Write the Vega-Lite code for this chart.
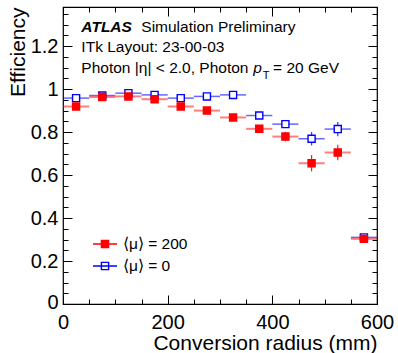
{
  "$schema": "https://vega.github.io/schema/vega-lite/v6.json",
  "width": 314,
  "height": 297,
  "autosize": {"type": "none"},
  "padding": {"left": 63, "top": 7, "right": 21, "bottom": 49},
  "background": "#ffffff",
  "config": {
    "view": {"stroke": "#000000", "strokeWidth": 1.2},
    "font": "Liberation Sans",
    "axis": {
      "labelFont": "Liberation Sans",
      "titleFont": "Liberation Sans",
      "labelColor": "#000000",
      "titleColor": "#000000",
      "tickColor": "#000000",
      "tickWidth": 1,
      "domain": false,
      "grid": false,
      "labelFontSize": 20,
      "titleFontSize": 21,
      "titleFontWeight": "normal",
      "labelFlush": false,
      "labelOverlap": false
    }
  },
  "datasets": {
    "eff": [
      {"s": "⟨μ⟩ = 0", "r": 25, "r0": 0, "r1": 50, "e": 0.958, "e0": 0.950, "e1": 0.966},
      {"s": "⟨μ⟩ = 0", "r": 75, "r0": 50, "r1": 100, "e": 0.970, "e0": 0.964, "e1": 0.976},
      {"s": "⟨μ⟩ = 0", "r": 125, "r0": 100, "r1": 150, "e": 0.981, "e0": 0.975, "e1": 0.987},
      {"s": "⟨μ⟩ = 0", "r": 175, "r0": 150, "r1": 200, "e": 0.973, "e0": 0.967, "e1": 0.979},
      {"s": "⟨μ⟩ = 0", "r": 225, "r0": 200, "r1": 250, "e": 0.958, "e0": 0.950, "e1": 0.966},
      {"s": "⟨μ⟩ = 0", "r": 275, "r0": 250, "r1": 300, "e": 0.966, "e0": 0.957, "e1": 0.975},
      {"s": "⟨μ⟩ = 0", "r": 325, "r0": 300, "r1": 350, "e": 0.973, "e0": 0.963, "e1": 0.983},
      {"s": "⟨μ⟩ = 0", "r": 375, "r0": 350, "r1": 400, "e": 0.877, "e0": 0.862, "e1": 0.892},
      {"s": "⟨μ⟩ = 0", "r": 425, "r0": 400, "r1": 450, "e": 0.837, "e0": 0.819, "e1": 0.855},
      {"s": "⟨μ⟩ = 0", "r": 475, "r0": 450, "r1": 500, "e": 0.769, "e0": 0.738, "e1": 0.800},
      {"s": "⟨μ⟩ = 0", "r": 525, "r0": 500, "r1": 550, "e": 0.814, "e0": 0.781, "e1": 0.847},
      {"s": "⟨μ⟩ = 0", "r": 575, "r0": 550, "r1": 600, "e": 0.310, "e0": 0.295, "e1": 0.325},
      {"s": "⟨μ⟩ = 200", "r": 25, "r0": 0, "r1": 50, "e": 0.919, "e0": 0.909, "e1": 0.929},
      {"s": "⟨μ⟩ = 200", "r": 75, "r0": 50, "r1": 100, "e": 0.963, "e0": 0.955, "e1": 0.971},
      {"s": "⟨μ⟩ = 200", "r": 125, "r0": 100, "r1": 150, "e": 0.966, "e0": 0.958, "e1": 0.974},
      {"s": "⟨μ⟩ = 200", "r": 175, "r0": 150, "r1": 200, "e": 0.953, "e0": 0.945, "e1": 0.961},
      {"s": "⟨μ⟩ = 200", "r": 225, "r0": 200, "r1": 250, "e": 0.919, "e0": 0.909, "e1": 0.929},
      {"s": "⟨μ⟩ = 200", "r": 275, "r0": 250, "r1": 300, "e": 0.900, "e0": 0.888, "e1": 0.912},
      {"s": "⟨μ⟩ = 200", "r": 325, "r0": 300, "r1": 350, "e": 0.868, "e0": 0.854, "e1": 0.882},
      {"s": "⟨μ⟩ = 200", "r": 375, "r0": 350, "r1": 400, "e": 0.815, "e0": 0.797, "e1": 0.833},
      {"s": "⟨μ⟩ = 200", "r": 425, "r0": 400, "r1": 450, "e": 0.779, "e0": 0.757, "e1": 0.801},
      {"s": "⟨μ⟩ = 200", "r": 475, "r0": 450, "r1": 500, "e": 0.655, "e0": 0.617, "e1": 0.693},
      {"s": "⟨μ⟩ = 200", "r": 525, "r0": 500, "r1": 550, "e": 0.705, "e0": 0.669, "e1": 0.741},
      {"s": "⟨μ⟩ = 200", "r": 575, "r0": 550, "r1": 600, "e": 0.303, "e0": 0.288, "e1": 0.318}
    ]
  },
  "layer": [
    {
      "data": {"name": "eff"},
      "transform": [{"filter": "datum.s === '⟨μ⟩ = 0'"}],
      "mark": {"type": "rule", "color": "#0000ff", "opacity": 0.6, "strokeWidth": 1.5},
      "encoding": {
        "x": {
          "field": "r0", "type": "quantitative",
          "scale": {"domain": [0, 600], "nice": false, "zero": false},
          "axis": {
            "orient": "bottom",
            "values": [0, 50, 100, 150, 200, 250, 300, 350, 400, 450, 500, 550, 600],
            "labelExpr": "datum.value % 200 === 0 ? datum.label : ''",
            "tickSize": {"condition": {"test": "datum.value % 200 === 0", "value": -9}, "value": -5},
            "labelPadding": 17,
            "title": "Conversion radius (mm)",
            "titleAnchor": "end",
            "titlePadding": -4
          }
        },
        "x2": {"field": "r1"},
        "y": {
          "field": "e", "type": "quantitative",
          "scale": {"domain": [0, 1.382], "nice": false, "zero": false},
          "axis": {
            "orient": "left",
            "values": [0, 0.05, 0.1, 0.15, 0.2, 0.25, 0.3, 0.35, 0.4, 0.45, 0.5, 0.55, 0.6, 0.65, 0.7, 0.75, 0.8, 0.85, 0.9, 0.95, 1, 1.05, 1.1, 1.15, 1.2, 1.25, 1.3, 1.35],
            "labelExpr": "abs(datum.value*5 - round(datum.value*5)) < 0.001 ? '' + round(datum.value*10)/10 : ''",
            "tickSize": {"condition": {"test": "abs(datum.value*5 - round(datum.value*5)) < 0.001", "value": -9}, "value": -5},
            "labelOffset": {"condition": {"test": "datum.value === 0", "value": -2}, "value": 0},
            "labelPadding": 14,
            "title": "Efficiency",
            "titleAnchor": "end",
            "titlePadding": 2
          }
        }
      }
    },
    {
      "data": {"name": "eff"},
      "transform": [{"filter": "datum.s === '⟨μ⟩ = 0'"}],
      "mark": {"type": "rule", "color": "#0000ff", "opacity": 0.8, "strokeWidth": 1.2},
      "encoding": {
        "x": {
          "field": "r", "type": "quantitative",
          "axis": {
            "orient": "top",
            "values": [0, 50, 100, 150, 200, 250, 300, 350, 400, 450, 500, 550, 600],
            "labels": false,
            "tickSize": {"condition": {"test": "datum.value % 200 === 0", "value": -9}, "value": -5},
            "title": null
          }
        },
        "y": {
          "field": "e0", "type": "quantitative",
          "axis": {
            "orient": "right",
            "values": [0, 0.05, 0.1, 0.15, 0.2, 0.25, 0.3, 0.35, 0.4, 0.45, 0.5, 0.55, 0.6, 0.65, 0.7, 0.75, 0.8, 0.85, 0.9, 0.95, 1, 1.05, 1.1, 1.15, 1.2, 1.25, 1.3, 1.35],
            "labels": false,
            "tickSize": {"condition": {"test": "abs(datum.value*5 - round(datum.value*5)) < 0.001", "value": -9}, "value": -5},
            "title": null
          }
        },
        "y2": {"field": "e1"}
      }
    },
    {
      "data": {"name": "eff"},
      "transform": [{"filter": "datum.s === '⟨μ⟩ = 200'"}],
      "mark": {"type": "rule", "color": "#ff0000", "opacity": 0.5, "strokeWidth": 2},
      "encoding": {
        "x": {"field": "r0", "type": "quantitative", "axis": null},
        "x2": {"field": "r1"},
        "y": {"field": "e", "type": "quantitative", "axis": null}
      }
    },
    {
      "data": {"name": "eff"},
      "transform": [{"filter": "datum.s === '⟨μ⟩ = 200'"}],
      "mark": {"type": "rule", "color": "#ff0000", "opacity": 0.9, "strokeWidth": 1.2},
      "encoding": {
        "x": {"field": "r", "type": "quantitative", "axis": null},
        "y": {"field": "e0", "type": "quantitative", "axis": null},
        "y2": {"field": "e1"}
      }
    },
    {
      "data": {"name": "eff"},
      "mark": {"type": "point", "shape": "square", "size": 50, "strokeWidth": 1.4, "opacity": 1, "filled": false},
      "encoding": {
        "x": {"field": "r", "type": "quantitative", "axis": null},
        "y": {"field": "e", "type": "quantitative", "axis": null},
        "fill": {
          "field": "s", "type": "nominal",
          "scale": {"domain": ["⟨μ⟩ = 200", "⟨μ⟩ = 0"], "range": ["#ff0000", "#ffffff"]},
          "legend": {
            "title": null, "orient": "bottom-left", "offset": 29, "padding": 0,
            "symbolType": "M-1,0H1M-0.3,-0.3H0.3V0.3H-0.3Z", "symbolSize": 576, "symbolStrokeWidth": 1.4,
            "labelFontSize": 15.5, "labelFont": "Liberation Sans", "labelColor": "#000000", "labelOffset": 5, "rowPadding": -6
          }
        },
        "stroke": {
          "field": "s", "type": "nominal",
          "scale": {"domain": ["⟨μ⟩ = 200", "⟨μ⟩ = 0"], "range": ["#ff0000", "#0000ff"]},
          "legend": {
            "title": null, "orient": "bottom-left", "offset": 29, "padding": 0,
            "symbolType": "M-1,0H1M-0.3,-0.3H0.3V0.3H-0.3Z", "symbolSize": 576, "symbolStrokeWidth": 1.4,
            "labelFontSize": 15.5, "labelFont": "Liberation Sans", "labelColor": "#000000", "labelOffset": 5, "rowPadding": -6
          }
        }
      }
    },
    {
      "data": {"values": [{"t": "ATLAS", "x": 35.1, "y": 1.2643}]},
      "mark": {"type": "text", "align": "left", "baseline": "alphabetic", "fontSize": 15.5, "fontStyle": "italic", "fontWeight": "bold", "color": "#000000"},
      "encoding": {
        "x": {"field": "x", "type": "quantitative", "axis": null},
        "y": {"field": "y", "type": "quantitative", "axis": null},
        "text": {"field": "t"}
      }
    },
    {
      "data": {"values": [
        {"t": "Simulation Preliminary", "x": 149.6, "y": 1.2643},
        {"t": "ITk Layout: 23-00-03", "x": 35.1, "y": 1.1726},
        {"t": "Photon |η| < 2.0, Photon", "x": 35.1, "y": 1.0763},
        {"t": "= 20 GeV", "x": 401.5, "y": 1.0763}
      ]},
      "mark": {"type": "text", "align": "left", "baseline": "alphabetic", "fontSize": 15.5, "color": "#000000"},
      "encoding": {
        "x": {"field": "x", "type": "quantitative", "axis": null},
        "y": {"field": "y", "type": "quantitative", "axis": null},
        "text": {"field": "t"}
      }
    },
    {
      "data": {"values": [{"t": "p", "x": 363.5, "y": 1.0763}]},
      "mark": {"type": "text", "align": "left", "baseline": "alphabetic", "fontSize": 15.5, "fontStyle": "italic", "color": "#000000"},
      "encoding": {
        "x": {"field": "x", "type": "quantitative", "axis": null},
        "y": {"field": "y", "type": "quantitative", "axis": null},
        "text": {"field": "t"}
      }
    },
    {
      "data": {"values": [{"t": "T", "x": 381.5, "y": 1.047}]},
      "mark": {"type": "text", "align": "left", "baseline": "alphabetic", "fontSize": 11, "color": "#000000"},
      "encoding": {
        "x": {"field": "x", "type": "quantitative", "axis": null},
        "y": {"field": "y", "type": "quantitative", "axis": null},
        "text": {"field": "t"}
      }
    }
  ],
  "resolve": {"axis": {"x": "independent", "y": "independent"}}
}
